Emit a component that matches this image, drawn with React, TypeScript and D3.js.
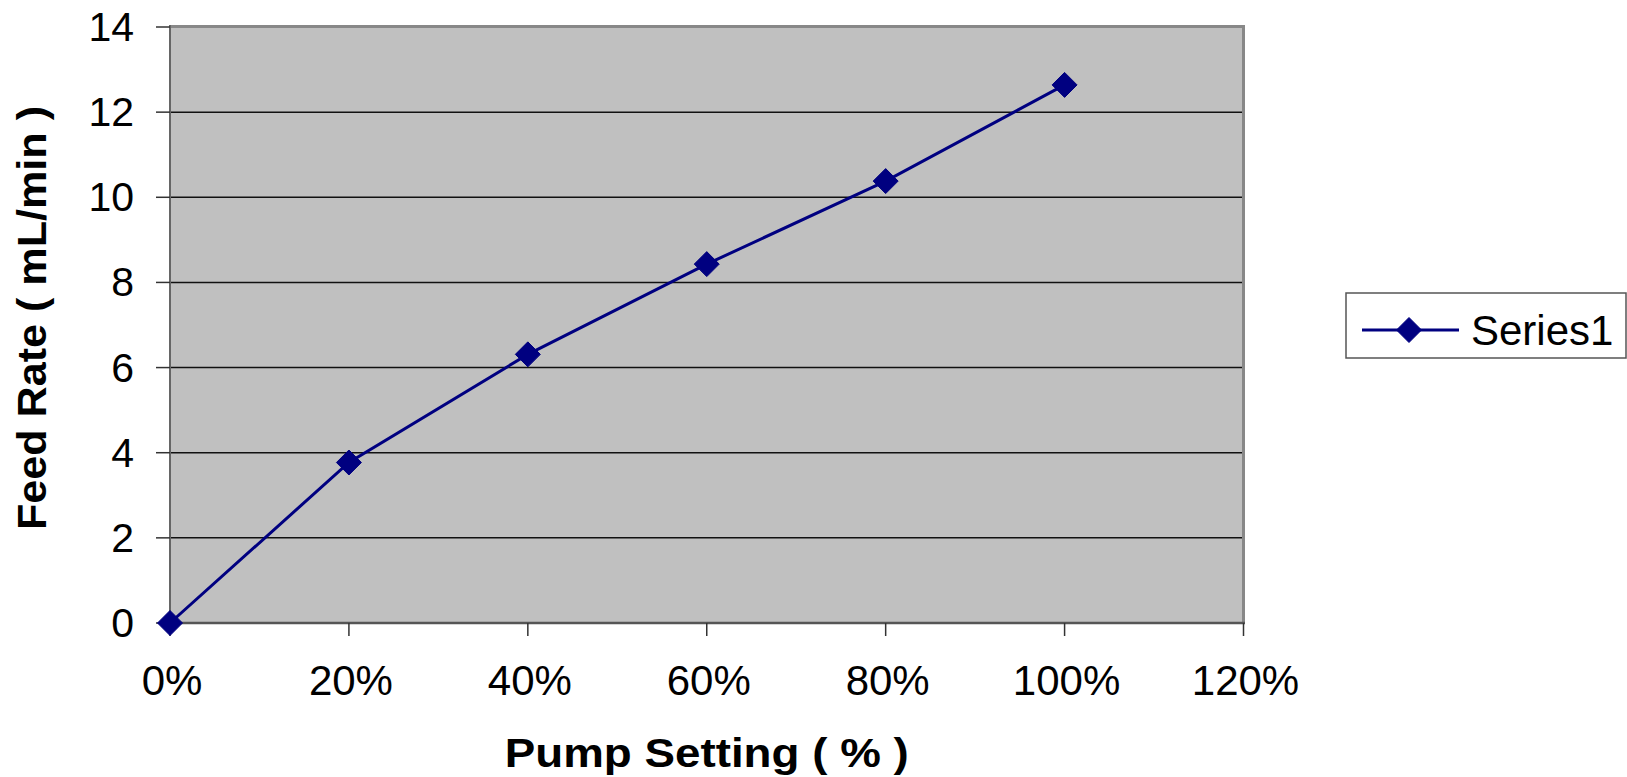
import React from "react";
import * as d3 from "d3";

const pumpSetting = [0, 0.2, 0.4, 0.6, 0.8, 1.0];
const feedRate = [0, 3.77, 6.31, 8.43, 10.38, 12.64];
const xTicks = [0, 0.2, 0.4, 0.6, 0.8, 1.0, 1.2];
const yTicks = [0, 2, 4, 6, 8, 10, 12, 14];
const seriesName = "Series1";

const W = 1627;
const H = 777;
const plot = { left: 170, right: 1243.5, top: 27, bottom: 623 };

export default function App() {
  const x = d3.scaleLinear().domain([0, 1.2]).range([plot.left, plot.right]);
  const y = d3.scaleLinear().domain([0, 14]).range([plot.bottom, plot.top]);
  const line = d3
    .line<number>()
    .x((_, i) => x(pumpSetting[i]))
    .y((d) => y(d));
  const diamond = (cx: number, cy: number, r: number) =>
    `M${cx},${cy - r}L${cx + r},${cy}L${cx},${cy + r}L${cx - r},${cy}Z`;
  const font = "'Liberation Sans', Arial, Helvetica, sans-serif";
  const fmt = d3.format(".0%");

  return (
    <svg
      width={W}
      height={H}
      style={{ position: "absolute", left: 0, top: 0, background: "#fff" }}
      fontFamily={font}
    >
      <rect
        x={plot.left}
        y={plot.top}
        width={plot.right - plot.left}
        height={plot.bottom - plot.top}
        fill="#C0C0C0"
      />
      {yTicks.slice(1, -1).map((t) => (
        <line
          key={"g" + t}
          x1={plot.left}
          x2={plot.right}
          y1={y(t)}
          y2={y(t)}
          stroke="#111"
          strokeWidth={1.5}
        />
      ))}
      <line x1={plot.left} x2={plot.right + 1.5} y1={plot.top - 0.5} y2={plot.top - 0.5} stroke="#888" strokeWidth={3} />
      <line x1={plot.right} x2={plot.right} y1={plot.top - 2} y2={plot.bottom} stroke="#888" strokeWidth={3} />
      <line x1={plot.left} x2={plot.left} y1={plot.top - 2} y2={plot.bottom + 1} stroke="#666" strokeWidth={2} />
      <line x1={plot.left} x2={plot.right + 1.5} y1={plot.bottom} y2={plot.bottom} stroke="#555" strokeWidth={2.5} />
      {yTicks.map((t) => (
        <g key={"y" + t}>
          <line x1={plot.left - 14} x2={plot.left} y1={y(t)} y2={y(t)} stroke="#333" strokeWidth={1.5} />
          <text
            x={134}
            y={y(t)}
            textAnchor="end"
            dominantBaseline="central"
            fontSize={41}
            fill="#000"
          >
            {t}
          </text>
        </g>
      ))}
      {xTicks.map((t) => (
        <g key={"x" + t}>
          <line x1={x(t)} x2={x(t)} y1={plot.bottom} y2={plot.bottom + 13} stroke="#333" strokeWidth={1.5} />
          <text x={x(t) + 2} y={695} textAnchor="middle" fontSize={42} fill="#000">
            {fmt(t)}
          </text>
        </g>
      ))}
      <path d={line(feedRate) || ""} fill="none" stroke="#000080" strokeWidth={3} />
      {feedRate.map((v, i) => (
        <path key={"m" + i} d={diamond(x(pumpSetting[i]), y(v), 12.5)} fill="#000080" stroke="#000080" strokeWidth={1} strokeLinejoin="round" />
      ))}
      <text
        x={(plot.left + plot.right) / 2}
        y={767}
        textAnchor="middle"
        fontSize={41}
        fontWeight="bold"
        fill="#000"
        textLength={404}
        lengthAdjust="spacingAndGlyphs"
      >
        Pump Setting ( % )
      </text>
      <text
        transform={`translate(46,318) rotate(-90)`}
        textAnchor="middle"
        fontSize={40}
        fontWeight="bold"
        fill="#000"
        textLength={424}
        lengthAdjust="spacingAndGlyphs"
      >
        Feed Rate ( mL/min )
      </text>
      <rect x={1346} y={293} width={280} height={65} fill="#fff" stroke="#555" strokeWidth={1.5} />
      <line x1={1362} x2={1459} y1={330} y2={330} stroke="#000080" strokeWidth={3} />
      <path d={diamond(1409, 330, 12.5)} fill="#000080" stroke="#000080" strokeWidth={1} strokeLinejoin="round" />
      <text x={1471} y={345} fontSize={42} fill="#000">
        {seriesName}
      </text>
    </svg>
  );
}
